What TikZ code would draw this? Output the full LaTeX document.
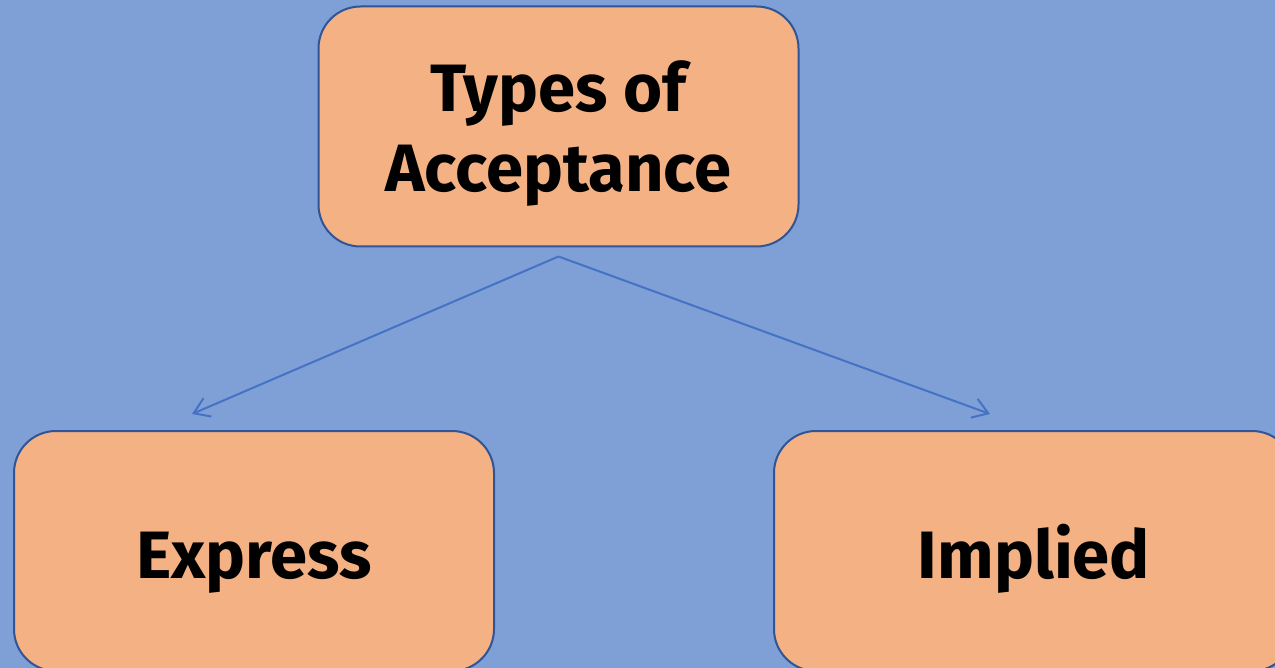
\documentclass[tikz,border=0pt]{standalone}
\usepackage{fontspec}
\setmainfont{Fira Sans}
\usetikzlibrary{arrows.meta}
\definecolor{bg}{HTML}{7F9FD7}
\definecolor{boxfill}{HTML}{F4B183}
\definecolor{boxline}{HTML}{2F5597}
\definecolor{arr}{HTML}{4472C4}
\begin{document}
\begin{tikzpicture}[x=1pt,y=-1pt,
  box/.style={draw=boxline, line width=2pt, fill=boxfill, rounded corners=42pt,
    minimum width=480pt, minimum height=240pt, inner sep=0pt, align=center,
    font=\bfseries\fontsize{67}{80}\selectfont},
  single/.style={text height=68pt, text depth=14pt},
  conn/.style={draw=arr, line width=2pt, -{Straight Barb[length=15pt,width=20pt]}}]
\useasboundingbox (0,0) rectangle (1275,668);
\fill[bg] (0,0) rectangle (1275,668);
\clip (0,0) rectangle (1275,668);
\node[box, text depth=-2pt] (top) at (558.5,126.5) {Types of\\Acceptance};
\node[box, single] (exp) at (254,551) {Express};
\node[box, single, minimum width=520pt] (imp) at (1034,551) {Implied};
\coordinate (el) at (192,414);
\coordinate (ir) at (990,414);
\draw[conn] ([yshift=-9pt]top.south) -- (el);
\draw[conn] ([yshift=-9pt]top.south) -- (ir);
\end{tikzpicture}
\end{document}
